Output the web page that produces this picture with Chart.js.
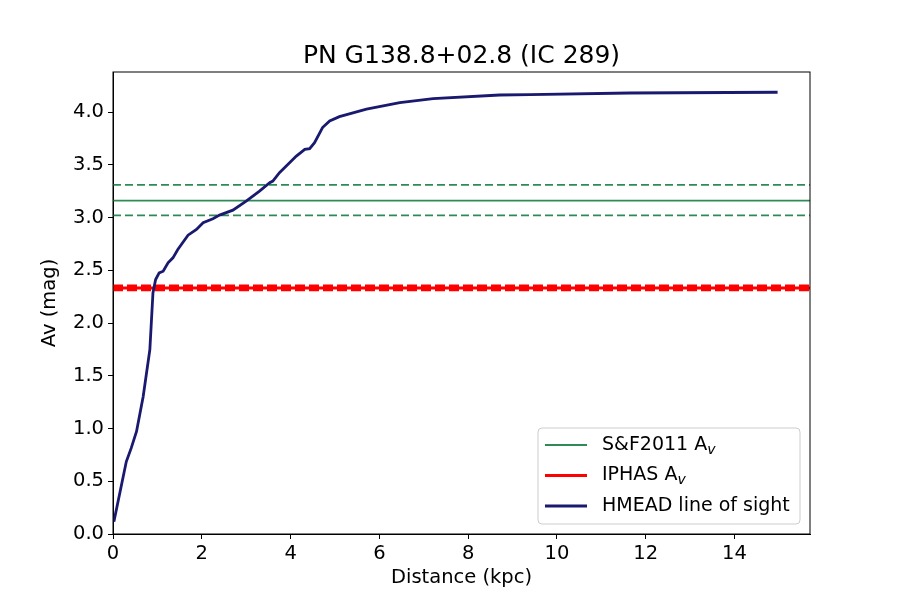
<!DOCTYPE html>
<html>
<head>
<meta charset="utf-8">
<script src="https://cdn.jsdelivr.net/npm/chart.js@4.4.0/dist/chart.umd.min.js"></script>
<style>
  html, body { margin: 0; padding: 0; background: #fff; }
  #wrap { width: 900px; height: 600px; }
</style>
</head>
<body>
<div id="wrap"><canvas id="mycanvas" width="900" height="600"></canvas></div>
<script>
// HMEAD line of sight (distance in kpc, Av in mag)
var distance = [0.02, 0.30, 0.41, 0.53, 0.68, 0.83, 0.90, 0.96, 1.04, 1.13, 1.24, 1.35, 1.46, 1.54,
                1.69, 1.88, 2.03, 2.25, 2.40, 2.70, 3.00, 3.30, 3.53, 3.60, 3.75, 4.13, 4.32, 4.43,
                4.54, 4.72, 4.88, 5.10, 5.71, 6.46, 7.21, 8.71, 9.39, 11.64, 14.97];
var avSight = [0.117, 0.687, 0.814, 0.972, 1.304, 1.747, 2.286, 2.412, 2.476, 2.491, 2.571, 2.618, 2.697, 2.745,
               2.833, 2.887, 2.951, 2.989, 3.023, 3.070, 3.156, 3.251, 3.331, 3.346, 3.425, 3.583, 3.647, 3.653,
               3.710, 3.853, 3.915, 3.957, 4.027, 4.090, 4.128, 4.162, 4.166, 4.181, 4.188];

// S&F2011 Av: value, lower, upper
var sfLevels = [3.16, 3.02, 3.31];
// IPHAS Av: value, lower, upper
var iphasLevels = [2.333, 2.318, 2.348];

var X_MIN = 0, X_MAX = 15.7;
var Y_MIN = 0, Y_MAX = 4.38;

var TITLE = "PN G138.8+02.8 (IC 289)";
var FONT = "'DejaVu Sans', sans-serif";

function flat(level) {
	return [{x: X_MIN, y: level}, {x: X_MAX, y: level}];
}

var sightPoints = [];
for (var i in distance) {
	sightPoints.push({x: distance[i], y: avSight[i]});
}

var datasets = [
	{
		label: "HMEAD line of sight",
		data: sightPoints,
		borderColor: "#191970",
		borderWidth: 2.8,
		showLine: true,
		pointRadius: 0,
		tension: 0,
		order: 0
	},
	{
		label: "S&F2011",
		data: flat(sfLevels[0]),
		borderColor: "#2e8b57",
		borderWidth: 1.8,
		showLine: true, pointRadius: 0, order: 3
	},
	{
		data: flat(sfLevels[1]),
		borderColor: "#2e8b57",
		borderWidth: 1.8, borderDash: [8, 4],
		showLine: true, pointRadius: 0, order: 3
	},
	{
		data: flat(sfLevels[2]),
		borderColor: "#2e8b57",
		borderWidth: 1.8, borderDash: [8, 4],
		showLine: true, pointRadius: 0, order: 3
	},
	{
		label: "IPHAS",
		data: flat(iphasLevels[0]),
		borderColor: "#ff0000",
		borderWidth: 3,
		showLine: true, pointRadius: 0, order: 2
	},
	{
		data: flat(iphasLevels[1]),
		borderColor: "#ff0000",
		borderWidth: 3.5, borderDash: [10, 4],
		showLine: true, pointRadius: 0, order: 2
	},
	{
		data: flat(iphasLevels[2]),
		borderColor: "#ff0000",
		borderWidth: 3.5, borderDash: [10, 4],
		showLine: true, pointRadius: 0, order: 2
	}
];

// title over the axes, frame around them and a matplotlib style legend box
var framePlugin = {
	id: "frame",
	afterDraw: function(chart) {
		var ctx = chart.ctx;
		var a = chart.chartArea;
		ctx.save();
		ctx.strokeStyle = "#000";
		ctx.lineWidth = 1;
		ctx.strokeRect(a.left, a.top, a.right - a.left, a.bottom - a.top);

		ctx.fillStyle = "#000";
		ctx.font = "25px " + FONT;
		ctx.textAlign = "center";
		ctx.textBaseline = "alphabetic";
		ctx.fillText(TITLE, (a.left + a.right) / 2, a.top - 9);
		ctx.textAlign = "left";

		var w = 262, h = 96;
		var bx = a.right - 10 - w, by = a.bottom - 10 - h;
		ctx.beginPath();
		ctx.roundRect(bx, by, w, h, 4);
		ctx.fillStyle = "rgba(255,255,255,0.8)";
		ctx.fill();
		ctx.strokeStyle = "#cccccc";
		ctx.stroke();

		var rows = [
			{color: "#2e8b57", width: 1.8, text: "S&F2011 A", sub: "v"},
			{color: "#ff0000", width: 3, text: "IPHAS A", sub: "v"},
			{color: "#191970", width: 2.8, text: "HMEAD line of sight", sub: ""}
		];
		for (var r = 0; r < rows.length; r++) {
			var yy = by + 17 + r * 30.5;
			ctx.beginPath();
			ctx.strokeStyle = rows[r].color;
			ctx.lineWidth = rows[r].width;
			ctx.moveTo(bx + 7, yy);
			ctx.lineTo(bx + 49, yy);
			ctx.stroke();
			ctx.fillStyle = "#000";
			ctx.textBaseline = "middle";
			ctx.font = "19px " + FONT;
			ctx.fillText(rows[r].text, bx + 64, yy);
			if (rows[r].sub) {
				var tw = ctx.measureText(rows[r].text).width;
				ctx.font = "italic 14px " + FONT;
				ctx.fillText(rows[r].sub, bx + 64 + tw, yy + 5);
			}
		}
		ctx.restore();
	}
};

var ctx = document.getElementById("mycanvas");

var LineGraph = new Chart(ctx, {
	type: "scatter",
	data: { datasets: datasets },
	plugins: [framePlugin],
	options: {
		responsive: false,
		animation: false,
		layout: { padding: { left: 0, right: 90, top: 72, bottom: 0 } },
		plugins: {
			legend: { display: false },
			tooltip: { enabled: false },
			title: { display: false }
		},
		scales: {
			x: {
				type: "linear",
				min: X_MIN,
				max: X_MAX,
				afterFit: function(scale) { scale.height = 66; },
				grid: { drawOnChartArea: false, drawTicks: true, tickLength: 5, color: "#000" },
				border: { color: "#000", width: 1 },
				ticks: {
					stepSize: 2,
					includeBounds: false,
					color: "#000",
					padding: 3,
					font: { family: FONT, size: 19.5 }
				},
				title: {
					display: true,
					text: "Distance (kpc)",
					color: "#000",
					padding: { top: 0, bottom: 10.5 },
					font: { family: FONT, size: 19.5 }
				}
			},
			y: {
				type: "linear",
				min: Y_MIN,
				max: Y_MAX,
				afterFit: function(scale) { scale.width = 113; },
				grid: { drawOnChartArea: false, drawTicks: true, tickLength: 5, color: "#000" },
				border: { color: "#000", width: 1 },
				ticks: {
					stepSize: 0.5,
					includeBounds: false,
					color: "#000",
					padding: 4,
					font: { family: FONT, size: 19.5 },
					callback: function(v) { return v.toFixed(1); }
				},
				title: {
					display: true,
					text: "Av (mag)",
					color: "#000",
					padding: { top: 38.5, bottom: 0 },
					font: { family: FONT, size: 19.5 }
				}
			}
		}
	}
});
</script>
</body>
</html>
